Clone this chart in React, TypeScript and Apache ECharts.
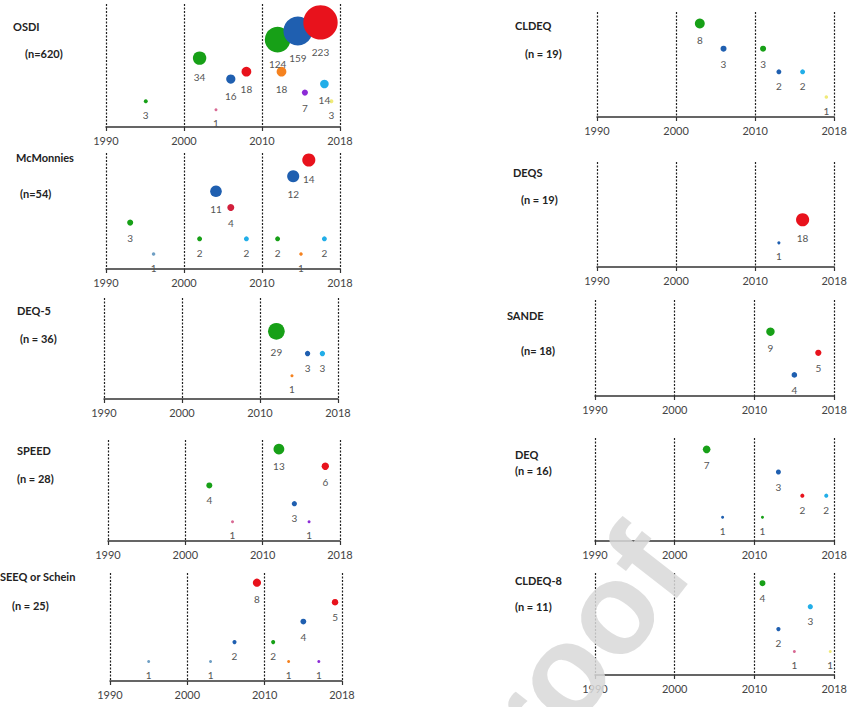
import React, { useEffect, useRef } from "react";
import * as echarts from "echarts";

// Tick positions on the decade scale and the labels printed under them
const tickYears = [1990, 2000, 2010, 2020];
const tickLabels = ["1990", "2000", "2010", "2018"];

// Each point: [year position, relative height (0-100), number of studies, group]
const osdiPoints = [
  [1995.1, 21, 3, "green"],
  [2002.0, 56, 34, "green"],
  [2004.1, 14, 1, "pink"],
  [2006.0, 39, 16, "blue"],
  [2008.0, 45, 18, "red"],
  [2012.0, 71, 124, "green"],
  [2014.6, 78, 159, "blue"],
  [2017.5, 85, 223, "red"],
  [2012.5, 45, 18, "orange"],
  [2015.5, 28, 7, "purple"],
  [2018.0, 35, 14, "cyan"],
  [2018.9, 21, 3, "yellow"],
];
const mcmonniesPoints = [
  [1993.1, 40, 3, "green"],
  [1996.1, 13, 1, "grayblue"],
  [2002.0, 26, 2, "green"],
  [2004.1, 67, 11, "blue"],
  [2006.0, 53, 4, "crimson"],
  [2008.0, 26, 2, "cyan"],
  [2012.0, 26, 2, "green"],
  [2015.0, 13, 1, "orange"],
  [2018.0, 26, 2, "cyan"],
  [2014.0, 80, 12, "blue"],
  [2016.0, 94, 14, "red"],
];
const deq5Points = [
  [2012.1, 67, 29, "green"],
  [2016.1, 45, 3, "blue"],
  [2018.0, 45, 3, "cyan"],
  [2014.1, 23, 1, "orange"],
];
const speedPoints = [
  [2003.1, 55, 4, "green"],
  [2006.1, 19, 1, "pink"],
  [2012.1, 91, 13, "green"],
  [2014.1, 37, 3, "blue"],
  [2016.0, 19, 1, "purple"],
  [2018.1, 74, 6, "red"],
];
const seeqPoints = [
  [1995.0, 18, 1, "grayblue"],
  [2003.0, 18, 1, "grayblue"],
  [2006.1, 36, 2, "blue"],
  [2009.0, 91, 8, "red"],
  [2011.1, 36, 2, "green"],
  [2013.1, 18, 1, "orange"],
  [2015.0, 55, 4, "blue"],
  [2017.0, 18, 1, "purple"],
  [2019.1, 73, 5, "red"],
];
const cldeqPoints = [
  [2003.0, 89, 8, "green"],
  [2006.0, 65, 3, "blue"],
  [2011.0, 65, 3, "green"],
  [2013.0, 43, 2, "blue"],
  [2016.0, 43, 2, "cyan"],
  [2019.0, 19, 1, "yellow"],
];
const deqsPoints = [
  [2013.0, 23, 1, "blue"],
  [2016.0, 45, 18, "red"],
];
const sandePoints = [
  [2012.0, 67, 9, "green"],
  [2015.0, 22, 4, "blue"],
  [2018.0, 45, 5, "red"],
];
const deqPoints = [
  [2004.0, 89, 7, "green"],
  [2006.0, 23, 1, "blue"],
  [2011.0, 23, 1, "green"],
  [2013.0, 67, 3, "blue"],
  [2016.0, 44, 2, "red"],
  [2019.0, 44, 2, "cyan"],
];
const cldeq8Points = [
  [2011.0, 90, 4, "green"],
  [2017.0, 67, 3, "cyan"],
  [2013.0, 45, 2, "blue"],
  [2015.0, 23, 1, "pink"],
  [2019.5, 23, 1, "yellow"],
];

const panelTitles = ["OSDI", "McMonnies", "DEQ-5", "SPEED", "SEEQ or Schein", "CLDEQ", "DEQS", "SANDE", "DEQ", "CLDEQ-8"];
const panelCounts = ["(n=620)", "(n=54)", "(n = 36)", "(n = 28)", "(n = 25)", "(n = 19)", "(n = 19)", "(n= 18)", "(n = 16)", "(n = 11)"];
const panelData = [osdiPoints, mcmonniesPoints, deq5Points, speedPoints, seeqPoints, cldeqPoints, deqsPoints, sandePoints, deqPoints, cldeq8Points];

const colors: Record<string, string> = {
  green: "#17a017",
  blue: "#1f5fb0",
  red: "#e8121c",
  crimson: "#d2203c",
  orange: "#f5821f",
  purple: "#8c2bd6",
  cyan: "#22aee8",
  yellow: "#f0ea78",
  pink: "#d86a94",
  grayblue: "#6f9fc4",
};

// Layout (pixels): grid left, right, top, axis line y; title positions; bubble scale
const layout = [
  { l: 106, r: 340, t: 4, a: 127, tx: 13, ty: 26, nx: 25, ny: 53, k: 2.3 },
  { l: 106, r: 340, t: 153, a: 269, tx: 16, ty: 157, nx: 20, ny: 193, k: 3.5 },
  { l: 104, r: 338, t: 298, a: 399, tx: 17, ty: 310, nx: 20, ny: 338, k: 3.1 },
  { l: 108, r: 340, t: 440, a: 541, tx: 17, ty: 450, nx: 17, ny: 478, k: 3.0 },
  { l: 110, r: 342, t: 573, a: 681, tx: 0, ty: 576, nx: 12, ny: 605, k: 2.9 },
  { l: 597, r: 838, t: 12, a: 117, tx: 515, ty: 25, nx: 525, ny: 53, k: 3.5 },
  { l: 597, r: 837, t: 162, a: 267, tx: 513, ty: 172, nx: 521, ny: 199, k: 3.1 },
  { l: 595, r: 837, t: 300, a: 396, tx: 507, ty: 315, nx: 521, ny: 350, k: 2.8 },
  { l: 595, r: 839, t: 438, a: 541, tx: 515, ty: 454, nx: 515, ny: 470, k: 2.9 },
  { l: 595, r: 838, t: 573, a: 675, tx: 515, ty: 580, nx: 515, ny: 606, k: 3.0 },
];

const FONT = "Lato, 'Open Sans', sans-serif";

export default function App() {
  const ref = useRef<HTMLDivElement>(null);
  useEffect(() => {
    const chart = echarts.init(ref.current!, null, { renderer: "svg" });
    const grid: any[] = [];
    const xAxis: any[] = [];
    const yAxis: any[] = [];
    const series: any[] = [];
    const graphic: any[] = [];
    layout.forEach((p, i) => {
      grid.push({ left: p.l, top: p.t, width: p.r - p.l, height: p.a - p.t, containLabel: false });
      xAxis.push({
        gridIndex: i,
        type: "value",
        min: tickYears[0],
        max: tickYears[tickYears.length - 1],
        interval: 10,
        axisLine: { show: true, onZero: false, lineStyle: { color: "#333", width: 1.5 } },
        axisTick: { show: true, length: 4, lineStyle: { color: "#333", width: 1.2 } },
        axisLabel: {
          show: true,
          margin: 8,
          fontSize: 11,
          color: "#444",
          fontFamily: FONT,
          showMinLabel: true,
          showMaxLabel: true,
          formatter: (v: number) => {
            const idx = tickYears.indexOf(v);
            return idx >= 0 ? tickLabels[idx] : "";
          },
        },
        splitLine: { show: true, lineStyle: { color: "#222", type: [2, 1.5], width: 1.2 } },
      });
      yAxis.push({ gridIndex: i, type: "value", min: 0, max: 100, show: false, splitLine: { show: false } });
      const k = p.k;
      series.push({
        type: "scatter",
        xAxisIndex: i,
        yAxisIndex: i,
        symbol: "circle",
        symbolSize: (v: any) => Math.max(3, k * Math.sqrt(v[2])),
        data: panelData[i].map((d: any) => ({
          value: [d[0], d[1], d[2]],
          itemStyle: { color: colors[d[3]], opacity: 1 },
        })),
        label: {
          show: true,
          position: "bottom",
          distance: 7,
          fontSize: 10,
          color: "#555",
          fontFamily: FONT,
          formatter: (pr: any) => String(pr.value[2]),
        },
      });
      graphic.push({
        type: "text",
        x: p.tx,
        y: p.ty,
        style: { text: panelTitles[i], fontSize: 11, fontWeight: "bold", fill: "#222", fontFamily: FONT, verticalAlign: "middle" },
      });
      graphic.push({
        type: "text",
        x: p.nx,
        y: p.ny,
        style: { text: panelCounts[i], fontSize: 11, fontWeight: "bold", fill: "#222", fontFamily: FONT, verticalAlign: "middle" },
      });
    });
    graphic.push({
      type: "text",
      x: 556,
      y: 785,
      rotation: 0.9076,
      z: 100,
      silent: true,
      style: {
        text: "roof",
        fontSize: 130,
        fontWeight: "bold",
        fontFamily: "'Liberation Sans', Arial, sans-serif",
        fill: "rgba(216,216,216,0.85)",
        verticalAlign: "bottom",
        align: "left",
      },
    });
    chart.setOption({
      animation: false,
      backgroundColor: "#fff",
      grid,
      xAxis,
      yAxis,
      series,
      graphic,
    });
    return () => chart.dispose();
  }, []);
  return <div ref={ref} style={{ position: "absolute", left: 0, top: 0, width: 850, height: 707 }} />;
}
